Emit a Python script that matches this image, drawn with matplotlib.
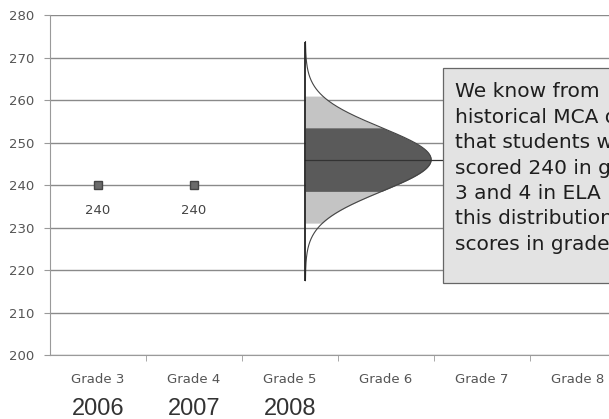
import matplotlib

matplotlib.use("Agg")
import matplotlib.pyplot as plt
import numpy as np
from matplotlib.patches import Rectangle

grades = ["Grade 3", "Grade 4", "Grade 5", "Grade 6", "Grade 7", "Grade 8"]
years = ["2006", "2007", "2008"]
observed = [240, 240]
mean_g5 = 246
sd_g5 = 7.5
note_lines = [
    "We know from",
    "historical MCA data",
    "that students who",
    "scored 240 in grades",
    "3 and 4 in ELA have",
    "this distribution of",
    "scores in grade 5.",
]

plt.rcParams["font.family"] = ["DejaVu Sans"]

fig = plt.figure(figsize=(6.09, 4.19), dpi=100)
ax = fig.add_axes([0.0821, 0.1527, 0.9458, 0.8115])

ax.set_xlim(-0.5, len(grades) - 0.5)
ax.set_ylim(200, 280)
ax.set_yticks(range(200, 281, 10))
ax.yaxis.grid(True, color="#8a8a8a", linewidth=1.0)
ax.set_axisbelow(True)
for side in ["top", "right"]:
    ax.spines[side].set_visible(False)
for side in ["left", "bottom"]:
    ax.spines[side].set_color("#9a9a9a")
ax.tick_params(axis="y", colors="#9a9a9a", labelcolor="#555555", labelsize=9.5,
               length=4, pad=7)
ax.set_xticks(range(len(grades)))
ax.set_xticklabels(grades)
ax.set_xticks(np.arange(0.5, len(grades) - 0.5, 1), minor=True)
ax.tick_params(axis="x", which="major", length=0, labelsize=9.5,
               labelcolor="#555555", pad=13)
ax.tick_params(axis="x", which="minor", length=4, colors="#9a9a9a")

for i, yr in enumerate(years):
    ax.annotate(yr, (i, 200), xycoords="data", xytext=(0, -39),
                textcoords="offset points", ha="center", va="center",
                fontsize=17, family="Liberation Sans", color="#333333",
                annotation_clip=False)

# observed scores
xs = list(range(len(observed)))
ax.plot(xs, observed, linestyle="none", marker="s", markersize=6,
        markerfacecolor="#6a6a6a", markeredgecolor="#444444")
for x, v in zip(xs, observed):
    ax.annotate(str(v), (x, v), xytext=(0, -18), textcoords="offset points",
                ha="center", va="center", fontsize=9.5, color="#444444")

# grade 5 distribution
x0 = 2.16
scale = 1.31
yy = np.linspace(mean_g5 - 3.8 * sd_g5, mean_g5 + 3.7 * sd_g5, 400)
dens = np.exp(-0.5 * ((yy - mean_g5) / sd_g5) ** 2)
xx = x0 + scale * dens
light = np.abs(yy - mean_g5) <= 2 * sd_g5
dark = np.abs(yy - mean_g5) <= sd_g5
ax.fill_betweenx(yy, x0, xx, where=light, color="#c4c4c4", linewidth=0, zorder=3)
ax.fill_betweenx(yy, x0, xx, where=dark, color="#5a5a5a", linewidth=0, zorder=4)
ax.plot(xx, yy, color="#444444", linewidth=0.8, zorder=5)
ax.plot([x0, x0], [yy[0], yy[-1]], color="#222222", linewidth=1.3,
        solid_capstyle="butt", zorder=6)
ax.plot([x0, 3.59], [mean_g5, mean_g5], color="#333333", linewidth=0.9, zorder=5)

# note box (runs off the right edge like the source)
ax.add_patch(Rectangle((3.59, 216.9), 3.0, 50.6, facecolor="#e3e3e3",
                       edgecolor="#666666", linewidth=0.9, zorder=6,
                       clip_on=False))
ax.text(3.715, 264.2, "\n".join(note_lines), ha="left", va="top", fontsize=14.5,
        linespacing=1.43, color="#1e1e1e", zorder=7, clip_on=False)

fig.savefig("out.png", dpi=100)
